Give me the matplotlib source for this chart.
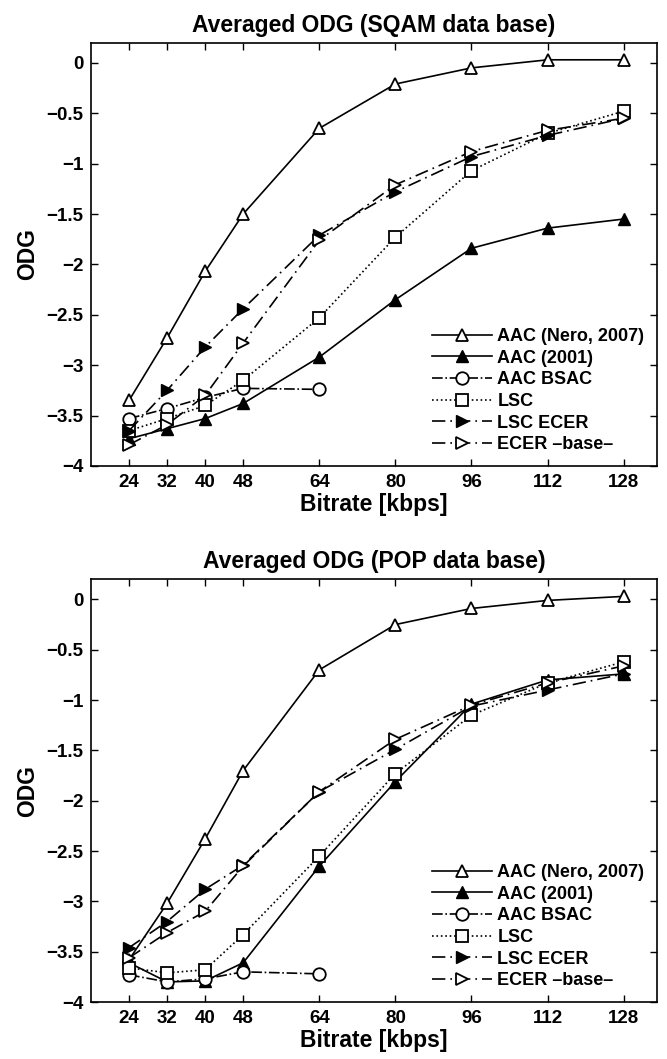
import matplotlib
matplotlib.use('Agg')
import matplotlib.pyplot as plt

plt.rcParams['font.family'] = ['Liberation Sans', 'DejaVu Sans']
plt.rcParams['font.weight'] = 'bold'

# bitrates in kbps
bitrate = [24, 32, 40, 48, 64, 80, 96, 112, 128]
xticks = [24, 32, 40, 48, 64, 80, 96, 112, 128]
yticks = [-4, -3.5, -3, -2.5, -2, -1.5, -1, -0.5, 0]

labels = ['AAC (Nero, 2007)', 'AAC (2001)', 'AAC BSAC', 'LSC', 'LSC ECER', 'ECER \u2013base\u2013']

# SQAM data base
sqam_nero = [-3.35, -2.73, -2.07, -1.50, -0.65, -0.21, -0.05, 0.03, 0.03]
sqam_aac = [-3.73, -3.63, -3.53, -3.38, -2.92, -2.35, -1.84, -1.64, -1.55]
sqam_bsac = [-3.53, -3.43, -3.32, -3.23, -3.24]
sqam_lsc = [-3.65, -3.53, -3.40, -3.15, -2.53, -1.73, -1.07, -0.70, -0.48]
sqam_lsc_ecer = [-3.65, -3.25, -2.82, -2.44, -1.71, -1.28, -0.93, -0.72, -0.55]
sqam_ecer = [-3.79, -3.59, -3.30, -2.78, -1.76, -1.21, -0.88, -0.67, -0.55]

# POP data base
pop_nero = [-3.58, -3.02, -2.38, -1.70, -0.70, -0.25, -0.09, -0.01, 0.03]
pop_aac = [-3.61, -3.80, -3.79, -3.61, -2.65, -1.81, -1.04, -0.80, -0.74]
pop_bsac = [-3.73, -3.80, -3.77, -3.70, -3.72]
pop_lsc = [-3.66, -3.71, -3.68, -3.33, -2.55, -1.73, -1.15, -0.83, -0.62]
pop_lsc_ecer = [-3.46, -3.20, -2.88, -2.64, -1.91, -1.49, -1.06, -0.90, -0.74]
pop_ecer = [-3.56, -3.31, -3.10, -2.65, -1.91, -1.39, -1.05, -0.83, -0.66]


def draw(ax, nero, aac, bsac, lsc, lsc_ecer, ecer, title):
    ms = 9
    ax.plot(bitrate, nero, '-', color='k', lw=1.2, marker='^', ms=ms,
            mfc='white', mec='k', mew=1.3, label=labels[0])
    ax.plot(bitrate, aac, '-', color='k', lw=1.2, marker='^', ms=ms,
            mfc='k', mec='k', label=labels[1])
    ax.plot(bitrate[:len(bsac)], bsac, '-.', color='k', lw=1.2, marker='o', ms=ms,
            mfc='white', mec='k', mew=1.3, label=labels[2])
    ax.plot(bitrate, lsc, ':', color='k', lw=1.2, marker='s', ms=8,
            mfc='white', mec='k', mew=1.3, label=labels[3])
    ax.plot(bitrate, lsc_ecer, color='k', lw=1.2, ls=(0, (8, 3, 1, 3)), marker='>', ms=ms,
            mfc='k', mec='k', label=labels[4])
    ax.plot(bitrate, ecer, color='k', lw=1.2, ls=(0, (8, 3, 1, 3)), marker='>', ms=ms,
            mfc='white', mec='k', mew=1.3, label=labels[5])

    ax.set_xlim(16, 135)
    ax.set_ylim(-4, 0.2)
    ax.set_xticks(xticks)
    ax.set_yticks(yticks)
    ax.set_yticklabels(['\u22124', '\u22123.5', '\u22123', '\u22122.5', '\u22122',
                        '\u22121.5', '\u22121', '\u22120.5', '0'])
    ax.tick_params(direction='in', top=True, right=True, length=5, width=1,
                   labelsize=13.5)
    ax.tick_params(axis='x', pad=6)
    ax.tick_params(axis='y', pad=5.5)
    for s in ax.spines.values():
        s.set_linewidth(1.2)
    ax.set_title(title, fontsize=16.5, fontweight='bold', pad=8)
    ax.set_xlabel('Bitrate [kbps]', fontsize=16.5, fontweight='bold', labelpad=1)
    ax.set_ylabel('ODG', fontsize=16.5, fontweight='bold', labelpad=5)
    ax.legend(loc='lower right', frameon=False, fontsize=13, handlelength=3.3,
              handletextpad=0.3, labelspacing=0.26, borderaxespad=0.3,
              bbox_to_anchor=(1.0, 0.0))


fig = plt.figure(figsize=(6.67, 10.59), dpi=100)
ax1 = fig.add_axes([0.1364, 0.5600, 0.8486, 0.3997])
ax2 = fig.add_axes([0.1364, 0.0538, 0.8486, 0.3992])

draw(ax1, sqam_nero, sqam_aac, sqam_bsac, sqam_lsc, sqam_lsc_ecer, sqam_ecer,
     'Averaged ODG (SQAM data base)')
draw(ax2, pop_nero, pop_aac, pop_bsac, pop_lsc, pop_lsc_ecer, pop_ecer,
     'Averaged ODG (POP data base)')

fig.savefig('out.png', dpi=100)
